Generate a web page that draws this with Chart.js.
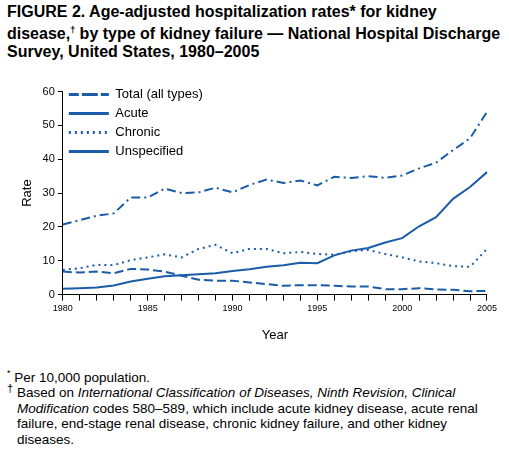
<!DOCTYPE html>
<html><head><meta charset="utf-8">
<script src="https://cdn.jsdelivr.net/npm/chart.js@4"></script>
<style>
body{margin:0;width:509px;height:463px;background:#fff;font-family:"Liberation Sans",Arial,sans-serif;color:#000;position:relative;overflow:hidden}
#title{position:absolute;left:7px;top:3px;width:498px;font-weight:bold;font-size:16px;line-height:18px}
#wrap{position:absolute;left:0;top:82px;width:500px;height:265px}
#notes{position:absolute;left:7px;top:366px;width:496px;font-size:13.5px;line-height:15.5px}
#notes div{position:relative;padding-left:10px}
sup{font-size:9px}
</style></head><body>
<div id="title">FIGURE 2. Age-adjusted hospitalization rates* for kidney disease,<sup>†</sup> by type of kidney failure — National Hospital Discharge Survey, United States, 1980–2005</div>
<div id="wrap"><canvas id="c"></canvas></div>
<div id="notes"><sup>*</sup> Per 10,000 population.<div><span style="position:absolute;left:0;top:-4px;font-size:11px">†</span>Based on <i>International Classification of Diseases, Ninth Revision, Clinical Modification</i> codes 580–589, which include acute kidney disease, acute renal failure, end-stage renal disease, chronic kidney failure, and other kidney diseases.</div></div>
<script>
const years=[];for(let y=1980;y<=2005;y++)years.push(String(y));
const total=[20.7,22,23.3,24,28.7,28.7,31.3,30,30.2,31.6,30.2,32.4,34,33,33.7,32.3,34.8,34.5,35,34.5,35.2,37.3,39,42.7,46.2,54];
const acute=[1.7,1.9,2.1,2.7,3.9,4.7,5.4,5.7,6,6.3,7,7.5,8.2,8.7,9.4,9.3,11.6,13,13.8,15.4,16.7,20.2,22.9,28.3,31.8,36.2];
const chronic=[7.3,7.8,8.8,8.7,10.2,11,11.9,11,13.5,14.7,12.2,13.5,13.5,12.2,12.6,12,11.8,12.8,13.2,12,11,9.8,9.3,8.4,8.2,13.5];
const unspecified=[6.8,6.5,6.8,6.3,7.6,7.4,6.8,5.6,4.4,4.1,4.1,3.6,3.1,2.6,2.8,2.8,2.6,2.4,2.4,1.6,1.6,1.9,1.5,1.4,1,1.1];
const C='#1a5ca8';
const ds=(label,data,dash)=>({label,data,borderColor:C,backgroundColor:C,borderWidth:2,borderDash:dash,pointRadius:0,tension:0,fill:false});
new Chart(document.getElementById('c'),{type:'line',
data:{labels:years,datasets:[ds('Total (all types)',total,[9,4,2,4]),ds('Acute',acute,[]),ds('Chronic',chronic,[2,4]),ds('Unspecified',unspecified,[9,4])]},
options:{responsive:true,maintainAspectRatio:false,animation:false,
layout:{padding:{left:16,right:10,top:2}},
plugins:{legend:{position:'chartArea',align:'start',labels:{boxWidth:40,boxHeight:0,color:'#000',font:{size:13,family:'Liberation Sans'},padding:6,
 generateLabels:ch=>ch.data.datasets.map((d,i)=>({text:d.label,strokeStyle:C,fillStyle:C,lineWidth:3,lineDash:d.borderDash,datasetIndex:i}))}},tooltip:{enabled:false}},
scales:{x:{grid:{display:true,drawOnChartArea:false,color:'#000',tickLength:6},border:{color:'#000'},
 ticks:{autoSkip:false,maxRotation:0,color:'#000',font:{size:9,family:'Liberation Sans'},callback:(v,i)=>i%5===0?years[i]:''},
 title:{display:true,text:'Year',color:'#000',padding:{top:10},font:{size:13,family:'Liberation Sans'}}},
y:{min:0,max:60,grid:{display:true,drawOnChartArea:false,color:'#000',tickLength:5},border:{color:'#000'},
 ticks:{stepSize:10,color:'#000',font:{size:11,family:'Liberation Sans'}},
 title:{display:true,text:'Rate',color:'#000',font:{size:13,family:'Liberation Sans'}}}}}});
</script></body></html>
